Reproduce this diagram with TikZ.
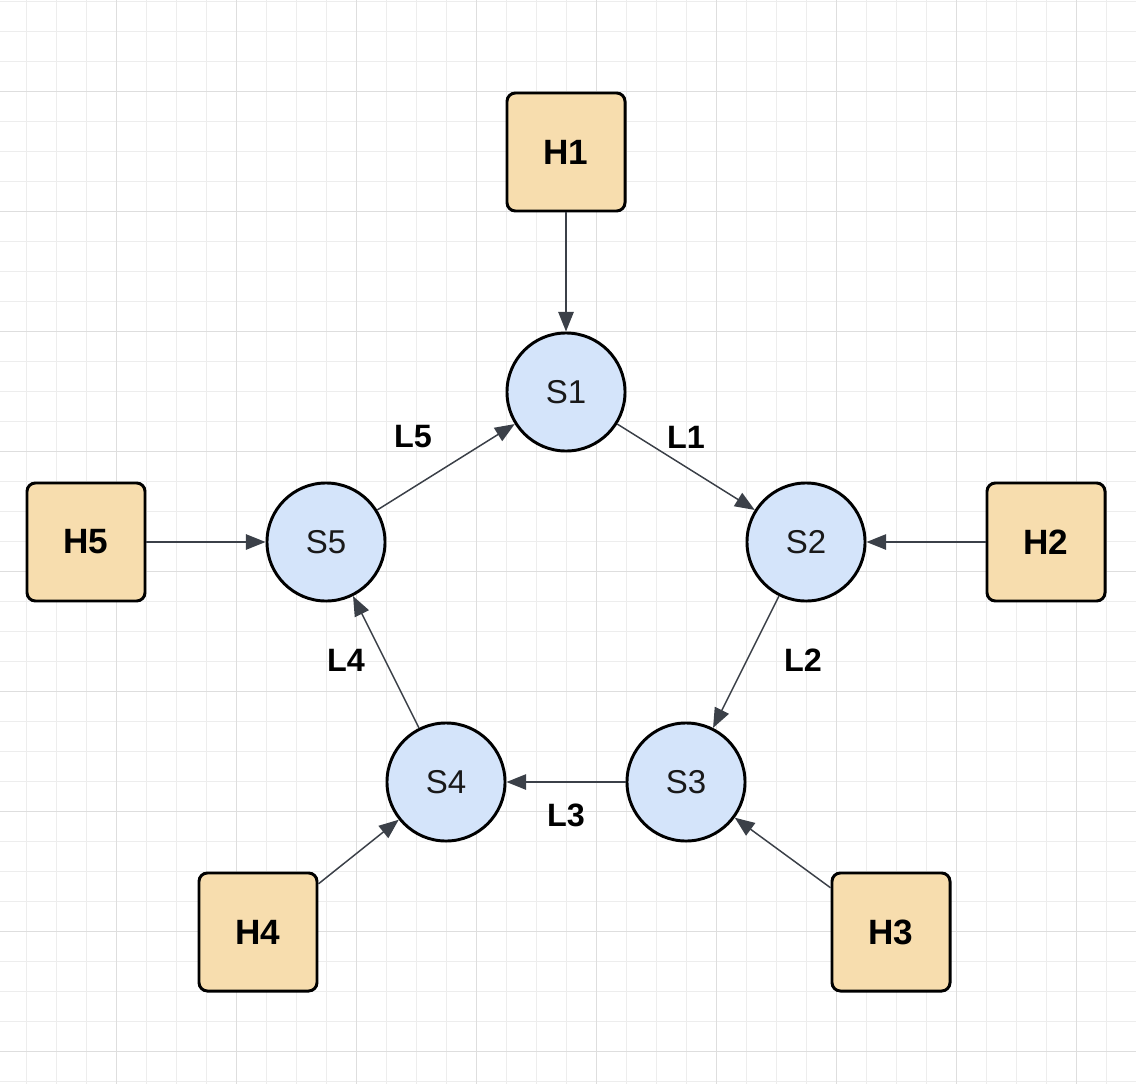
\documentclass[tikz,border=0pt]{standalone}
\usepackage{fontspec}
\setmainfont{Liberation Sans}
\usetikzlibrary{arrows.meta}

\definecolor{hostfill}{HTML}{F7DDAE}
\definecolor{switchfill}{HTML}{D4E4FA}
\definecolor{linkgray}{HTML}{3B4048}
\definecolor{gridminor}{HTML}{EDEDED}
\definecolor{gridmajor}{HTML}{DEDEDE}

\begin{document}
\begin{tikzpicture}[x=0.025cm,y=-0.025cm,>={Triangle[length=14pt,width=11pt]}]
	\tikzstyle{host}=[draw=black,line width=2.1pt,fill=hostfill,rounded corners=6pt,minimum size=2.95cm,font=\bfseries\fontsize{25}{30}\selectfont]
	\tikzstyle{switch}=[circle,draw=black,line width=2.1pt,fill=switchfill,minimum size=2.95cm,text=black!90,font=\fontsize{23.5}{28}\selectfont]
	\tikzstyle{link}=[->,draw=linkgray,fill=linkgray,line width=1.05pt]
	\tikzstyle{lbl}=[font=\bfseries\fontsize{23}{28}\selectfont]

  \useasboundingbox (0,0) rectangle (1136,1084);
  \fill[white] (0,0) rectangle (1136,1084);

  % grid
  \foreach \gx in {0,...,37} \draw[gridminor,line width=0.7pt] (26.7+30*\gx,0) -- (26.7+30*\gx,1084);
  \foreach \gy in {0,...,36} \draw[gridminor,line width=0.7pt] (0,1.7+30*\gy) -- (1136,1.7+30*\gy);
  \foreach \gx in {0,...,9} \draw[gridmajor,line width=0.7pt] (116.7+120*\gx,0) -- (116.7+120*\gx,1084);
  \foreach \gy in {0,...,8} \draw[gridmajor,line width=0.7pt] (0,91.7+120*\gy) -- (1136,91.7+120*\gy);

  \node[switch] (S1) at (566,392) {S1};
  \node[switch] (S2) at (806,542) {S2};
  \node[switch] (S3) at (686,782) {S3};
  \node[switch] (S4) at (446,782) {S4};
  \node[switch] (S5) at (326,542) {S5};

  \node[host] (H1) at (566,152) {H1};
  \node[host] (H2) at (1046,542) {H2};
  \node[host] (H3) at (891,932) {H3};
  \node[host] (H4) at (258,932) {H4};
  \node[host] (H5) at (86,542) {H5};

  \node[lbl] (L1) at (686,437) {L1};
  \node[lbl] (L2) at (803,660) {L2};
  \node[lbl] (L3) at (566,815) {L3};
  \node[lbl] (L4) at (346,660) {L4};
  \node[lbl] (L5) at (413,437) {L5};

  \path[link] (H1) edge (S1)
        (H2) edge (S2)
        (H3) edge (S3)
        (H4) edge (S4)
        (H5) edge (S5)
        (S1) edge (S2)
        (S2) edge (S3)
        (S3) edge (S4)
        (S4) edge (S5)
        (S5) edge (S1);

\end{tikzpicture}
\end{document}
